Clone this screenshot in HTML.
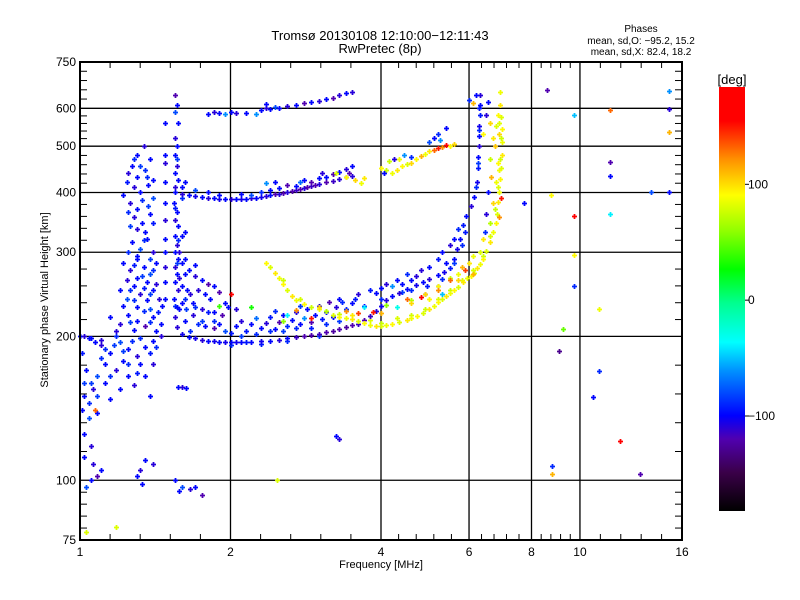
<!DOCTYPE html>
<html><head><meta charset="utf-8">
<style>
html,body{margin:0;padding:0;background:#fff;}
svg{display:block;font-family:"Liberation Sans","DejaVu Sans",sans-serif;}
</style></head>
<body>
<svg id="chart" width="800" height="600" viewBox="0 0 800 600">
<defs>
<linearGradient id="cbar" x1="0" y1="1" x2="0" y2="0">
<stop offset="0" stop-color="#000000"/>
<stop offset="0.09" stop-color="#3a0048"/>
<stop offset="0.17" stop-color="#5000b0"/>
<stop offset="0.225" stop-color="#0000ff"/>
<stop offset="0.33" stop-color="#0090ff"/>
<stop offset="0.398" stop-color="#00ffff"/>
<stop offset="0.49" stop-color="#00ff90"/>
<stop offset="0.57" stop-color="#00ff00"/>
<stop offset="0.66" stop-color="#90ff00"/>
<stop offset="0.745" stop-color="#ffff00"/>
<stop offset="0.83" stop-color="#ff9000"/>
<stop offset="0.92" stop-color="#ff0000"/>
<stop offset="1" stop-color="#ff0000"/>
</linearGradient>
</defs>
<text x="380" y="40" font-size="13" text-anchor="middle">Tromsø 20130108 12:10:00−12:11:43</text>
<text x="380" y="53" font-size="13" text-anchor="middle">RwPretec (8p)</text>
<text x="641" y="32" font-size="10" text-anchor="middle">Phases</text>
<text x="641" y="44" font-size="10" text-anchor="middle">mean, sd,O: −95.2, 15.2</text>
<text x="641" y="55" font-size="10" text-anchor="middle">mean, sd,X:  82.4, 18.2</text>
<g id="grid"></g>
<g id="marks"></g>
<g id="axes"></g>
<rect x="80" y="62" width="602" height="478" fill="none" stroke="#000" stroke-width="2"/>
<text x="381" y="568" font-size="11" text-anchor="middle">Frequency [MHz]</text>
<text x="0" y="0" font-size="11" text-anchor="middle" transform="translate(48,300) rotate(-90)">Stationary phase Virtual Height [km]</text>
<rect x="719" y="87" width="26" height="424" fill="url(#cbar)"/>
<text x="732" y="84" font-size="13" text-anchor="middle">[deg]</text>
<g id="cbticks"></g>
</svg>
<script>
const xTickVals = [1, 2, 4, 6, 8, 10, 16];
const yTickVals = [75, 100, 200, 300, 400, 500, 600, 750];
const cbTickVals = [100, 0, -100];

const oLower = [[1.56,209,-110],[1.6,202,-105],[1.65,199,-100],[1.7,198,-105],[1.75,197,-110],[1.8,196,-100],[1.85,196,-105],[1.9,195,-100],[1.95,195,-105],[2.0,195,-100],[2.05,195,-105],[2.1,195,-100],[2.15,195,-95],[2.2,195,-100],[2.3,196,-105],[2.4,196,-100],[2.5,197,-110],[2.6,198,-100],[2.7,199,-115],[2.8,200,-120],[2.9,201,-120],[3.0,202,-115],[3.1,204,-120],[3.2,205,-125],[3.3,207,-120],[3.4,209,-125],[3.5,211,-120],[3.6,212,-115],[3.7,216,-120],[3.8,221,-115],[3.9,226,-110],[4.0,232,-105],[4.1,238,-110],[4.2,243,-100],[4.35,247,-110],[4.5,251,-100],[4.7,256,-105],[4.85,260,-100],[5.0,264,-110],[5.2,269,-100],[5.35,273,-105],[5.5,278,-95],[5.6,290,-100],[5.68,305,-105],[5.75,320,-100],[5.84,342,-95],[5.93,358,-100],[6.05,375,-110],[6.15,392,-100],[6.22,420,-105],[6.24,450,-95],[6.26,475,-100],[6.27,500,-110],[6.28,525,-100],[6.29,550,-105],[6.3,580,-95],[6.3,610,-100],[6.31,640,-110]];

const oBand2 = [[1.62,215,-100],[1.68,222,-110],[1.72,212,-90],[1.78,210,-100],[1.85,208,-120],[1.9,212,-100],[1.95,205,-80],[2.05,210,-100],[2.1,215,-110],[2.15,205,-95],[2.2,212,-100],[2.25,218,-70],[2.3,208,-100],[2.35,213,-110],[2.4,220,-95],[2.45,207,-100],[2.5,214,-120],[2.55,222,-100],[2.6,210,-90],[2.65,216,-100],[2.7,225,-110],[2.75,212,-100],[2.8,218,-60],[2.85,228,-100],[2.9,214,-120],[2.95,222,-100],[3.0,232,-110],[3.05,217,-95],[3.1,225,-100],[3.15,236,-120],[3.2,220,-100],[3.25,230,-110],[3.3,240,-100],[3.4,228,-90],[3.5,235,-100],[3.6,245,-110],[3.7,232,-100],[3.8,250,-95],[4.0,252,-100],[4.1,258,-110],[4.3,262,-100],[4.5,270,-90],[4.6,262,-100],[4.8,275,-110],[5.0,280,-100],[5.2,290,-95],[5.3,300,-100],[5.5,310,-110],[5.6,320,-100],[5.7,335,-90],[5.2,255,-100],[4.9,245,-120],[4.4,258,-100],[4.7,268,-110],[5.4,285,-100],[3.9,246,-100],[4.2,255,-60]];

const mixed = [[3.4,226,120],[3.5,222,95],[3.6,224,140],[3.7,230,-40],[3.85,225,150],[4.0,224,110],[4.1,233,60],[4.3,230,-30],[4.5,240,130],[4.6,235,100],[4.8,242,160],[5.0,240,90],[5.2,250,120],[5.3,245,-50],[5.5,262,130],[5.7,262,100],[5.9,275,140],[6.1,270,110],[3.1,226,70],[2.9,218,150],[3.0,230,100],[2.7,227,120],[2.6,222,-40],[2.55,215,60],[1.9,232,40],[2.0,245,170],[2.2,230,30]];

const xTrace = [[2.35,285,90],[2.4,280,80],[2.45,272,95],[2.5,265,85],[2.55,258,90],[2.6,250,80],[2.65,243,95],[2.7,238,85],[2.8,234,90],[2.9,230,75],[3.0,228,85],[3.1,226,95],[3.2,222,80],[3.3,220,90],[3.4,219,85],[3.5,217,95],[3.6,215,80],[3.7,213,90],[3.8,211,85],[3.9,210,95],[4.0,210,80],[4.1,211,85],[4.2,212,90],[4.35,214,80],[4.5,216,95],[4.6,218,85],[4.72,221,90],[4.85,224,80],[5.0,228,95],[5.1,231,85],[5.2,236,90],[5.3,239,80],[5.4,243,95],[5.5,246,85],[5.6,250,90],[5.7,254,80],[5.84,260,95],[5.95,265,85],[6.05,268,90],[6.15,272,80],[6.22,278,95],[6.3,283,85],[6.4,290,90],[6.5,302,80],[6.6,315,95],[6.7,330,85],[6.78,345,90],[6.82,360,80],[6.87,382,95],[6.9,400,85],[6.93,427,90],[6.95,450,80],[6.97,479,95],[6.98,510,85],[6.98,543,90],[6.96,575,80],[6.93,610,95],[6.92,649,85]];

const xBand2 = [[4.6,238,70],[4.9,245,100],[5.2,255,90],[5.5,265,75],[5.8,280,110],[6.1,295,85],[6.4,320,95],[6.6,345,70],[6.7,380,100],[6.8,420,85],[6.85,460,90],[6.75,500,105],[6.8,550,80],[6.7,520,95],[6.6,470,75],[6.65,430,110],[6.55,400,-100],[6.5,360,-110],[6.45,330,-90],[6.9,355,120],[6.95,390,150],[6.3,300,80],[6.0,285,95],[5.7,270,85],[6.85,580,90],[6.9,530,100],[6.88,445,85]];

const oUpper = [[1.55,400,-100],[1.6,397,-110],[1.65,395,-100],[1.7,393,-105],[1.75,391,-100],[1.8,390,-110],[1.85,389,-100],[1.9,388,-105],[1.95,388,-100],[2.0,387,-110],[2.05,387,-100],[2.1,388,-105],[2.15,388,-100],[2.2,389,-110],[2.25,390,-100],[2.3,392,-105],[2.35,393,-110],[2.4,395,-100],[2.45,397,-120],[2.5,398,-110],[2.55,399,-120],[2.6,401,-110],[2.65,403,-120],[2.7,405,-115],[2.75,407,-120],[2.8,409,-110],[2.85,411,-120],[2.9,413,-115],[2.95,415,-120],[3.0,417,-110],[3.1,420,-120],[3.2,423,-115],[3.3,427,-110],[3.4,430,-120],[3.5,434,-110],[1.6,410,-100],[1.7,405,-80],[1.8,400,-100],[1.62,420,-100],[2.1,398,-100],[2.3,400,-90],[2.5,408,-100],[2.6,415,-120],[2.7,412,-100],[2.75,420,-70],[2.8,425,-100],[2.9,420,-120],[3.0,428,-100],[3.05,440,-110],[3.1,432,-100],[3.2,438,-120],[3.3,442,-100],[3.4,448,-110],[3.5,455,-100],[3.45,440,-120],[2.4,404,-100],[2.2,395,-80],[1.9,396,-100],[2.45,420,-100],[2.35,418,-60]];

const xUpper = [[3.25,440,80],[3.4,432,90],[3.55,425,100],[3.65,418,85],[3.7,428,95],[4.0,450,90],[4.1,445,75],[4.2,440,85],[4.3,445,95],[4.4,455,90],[4.5,458,80],[4.6,462,100],[4.7,470,90],[4.8,478,110],[4.9,482,85],[5.0,488,95],[5.1,492,130],[5.2,495,150],[5.3,498,120],[5.4,503,160],[5.5,500,90],[5.6,505,100],[4.35,470,85],[4.15,465,75],[4.05,440,-100],[4.25,470,-110],[4.45,480,-60],[4.6,475,-90],[5.0,510,-80],[5.1,520,-100],[5.2,530,-90],[5.25,515,-60],[5.4,545,-100]];

const oTop = [[1.8,583,-100],[1.85,590,-110],[1.9,588,-100],[1.95,585,-60],[2.0,590,-100],[2.05,586,-110],[2.15,588,-100],[2.3,595,-100],[2.35,600,-110],[2.4,598,-100],[2.45,605,-80],[2.5,602,-100],[2.6,608,-110],[2.7,610,-100],[2.8,615,-120],[2.9,618,-100],[3.0,622,-110],[3.1,628,-100],[3.2,632,-120],[3.3,640,-110],[3.4,645,-100],[3.5,650,-110],[2.25,585,-60],[2.35,612,-100]];

const column = [[1.55,640,-120],[1.56,610,-100],[1.55,590,-80],[1.57,560,-100],[1.55,520,-110],[1.56,500,-100],[1.55,480,-100],[1.56,455,-110],[1.55,440,-100],[1.57,425,-100],[1.55,410,-110],[1.54,380,-100],[1.56,365,-100],[1.55,350,-110],[1.57,340,-100],[1.55,325,-100],[1.56,310,-110],[1.55,300,-100],[1.57,290,-100],[1.55,280,-110],[1.56,270,-100],[1.55,260,-100],[1.57,250,-110],[1.54,240,-100],[1.56,230,-100],[1.55,220,-110],[1.6,325,-100],[1.62,330,-100],[1.58,300,-110],[1.6,285,-100],[1.62,270,-100],[1.58,265,-110],[1.6,255,-100],[1.64,250,-100],[1.66,245,-110],[1.6,235,-100],[1.58,228,-100],[1.48,560,-100],[1.48,480,-100],[1.48,460,-110],[1.48,420,-100],[1.48,380,-100],[1.48,350,-110],[1.48,320,-100],[1.48,300,-100],[1.48,280,-110],[1.48,260,-100],[1.48,240,-100]];

const lowCluster = [[1.3,480,-100],[1.34,500,-110],[1.38,470,-100],[1.27,455,-100],[1.25,440,-110],[1.3,430,-100],[1.35,445,-90],[1.4,425,-100],[1.28,410,-110],[1.37,415,-100],[1.22,395,-100],[1.26,380,-110],[1.32,400,-100],[1.4,390,-80],[1.3,370,-100],[1.28,355,-110],[1.33,345,-100],[1.38,360,-100],[1.3,335,-110],[1.35,330,-100],[1.27,315,-100],[1.32,305,-80],[1.36,320,-100],[1.4,300,-110],[1.3,295,-100],[1.22,285,-100],[1.26,275,-110],[1.3,290,-100],[1.34,280,-100],[1.38,270,-80],[1.42,285,-100],[1.24,262,-110],[1.3,265,-100],[1.36,260,-100],[1.42,258,-110],[1.2,250,-100],[1.24,240,-80],[1.28,255,-100],[1.32,245,-110],[1.36,238,-100],[1.4,250,-100],[1.44,240,-110],[1.22,232,-100],[1.3,230,-100],[1.38,228,-80],[1.46,232,-100],[1.15,220,-100],[1.2,212,-110],[1.25,222,-100],[1.3,215,-100],[1.35,210,-120],[1.4,220,-100],[1.45,212,-100],[1.18,205,-110],[1.28,206,-100],[1.42,205,-100],[1.05,198,-100],[1.1,192,-110],[1.15,185,-100],[1.2,195,-80],[1.25,188,-100],[1.3,182,-110],[1.35,190,-100],[1.4,196,-100],[1.45,200,-110],[1.22,178,-100],[1.32,175,-100],[1.18,170,-110],[1.03,170,-100],[1.08,165,-80],[1.12,160,-100],[1.2,155,-100],[1.28,158,-110],[1.35,165,-100],[1.02,150,-100],[1.06,155,-110],[1.15,148,-100],[1.01,140,-100],[1.04,135,-80],[1.02,125,-100],[1.05,118,-110],[1.08,138,-100],[1.02,112,-100],[1.06,108,-110],[1.1,105,-100],[1.05,100,-100],[1.08,102,-120],[1.3,102,-100],[1.32,105,-110],[1.35,110,-100],[1.33,98,-100],[1.4,108,-110],[1.03,97,-80],[1.0,200,-100],[1.02,200,-110],[1.04,198,-100],[1.07,195,-100],[1.1,197,-110],[1.12,175,-100],[1.25,165,-100],[1.4,175,-110],[1.38,150,-100]];

const denseExtra = [[1.28,470,-90],[1.32,455,-85],[1.36,430,-90],[1.24,420,-95],[1.33,385,-90],[1.37,375,-85],[1.25,365,-90],[1.4,345,-95],[1.26,340,-85],[1.34,318,-90],[1.25,300,-90],[1.38,290,-85],[1.28,282,-95],[1.4,275,-90],[1.33,268,-85],[1.26,250,-90],[1.34,252,-95],[1.38,245,-85],[1.28,238,-90],[1.34,226,-90],[1.26,214,-85],[1.38,214,-90],[1.43,225,-95],[1.32,198,-90],[1.17,192,-85],[1.27,196,-90],[1.38,185,-95],[1.1,180,-90],[1.22,186,-85],[1.15,165,-90],[1.3,168,-95],[1.08,150,-85],[1.25,175,-90],[1.42,190,-90],[1.05,160,-85],[1.12,188,-90],[1.18,200,-90],[1.01,185,-95],[1.02,160,-85],[1.04,145,-90],[1.55,232,-90],[1.56,285,-85],[1.57,318,-90],[1.55,372,-95],[1.56,470,-85],[1.6,390,-90],[1.62,240,-90],[1.63,228,-85],[1.7,230,-90],[1.8,225,-95],[1.66,205,-90],[1.75,215,-85],[1.85,215,-90],[2.0,203,-95],[2.1,200,-85],[2.25,202,-90],[2.4,205,-90],[2.55,205,-85],[2.7,208,-90],[2.9,208,-95],[3.1,212,-90],[3.3,215,-85],[2.0,192,-90],[2.3,193,-95],[2.6,196,-90],[3.0,200,-85],[2.45,226,-90],[2.75,232,-85],[3.35,236,-90],[3.55,240,-95],[4.0,240,-90],[4.4,248,-85],[4.6,250,-90],[4.95,255,-95],[5.3,264,-90],[5.6,285,-85],[5.8,310,-90],[5.9,330,-95],[6.2,410,-90],[6.25,460,-85],[6.27,540,-90],[6.29,600,-95],[3.8,216,80],[4.0,213,75],[4.3,218,80],[4.6,222,78],[4.9,228,76],[5.2,240,80],[5.5,250,75],[5.8,262,80],[6.1,275,78],[6.4,295,76],[6.6,325,80],[6.75,370,75],[6.85,410,80],[6.92,470,78],[6.95,520,76],[6.9,560,80],[3.3,223,75],[3.0,232,80],[2.75,240,78],[2.55,262,76]];

const f1Scatter = [[1.65,275,-100],[1.7,268,-110],[1.75,262,-100],[1.8,258,-120],[1.85,255,-100],[1.72,250,-110],[1.78,245,-100],[1.82,240,-100],[1.9,248,-120],[1.95,235,-100],[1.68,235,-100],[1.75,228,-110],[1.85,225,-100],[1.92,222,-120],[1.98,230,-100],[2.05,228,-110],[1.7,282,-100],[1.62,290,-100],[1.57,157,-100],[1.6,157,-110],[1.63,156,-100],[1.55,100,-100],[1.6,97,-80],[1.66,96,-110],[1.7,97,-100],[1.75,93,-120],[1.58,95,-100],[3.25,124,-100],[3.3,122,-110],[2.48,100,80],[1.18,80,80],[1.03,78,80],[1.07,140,130]];

const sparse = [[8.59,655,-120],[9.73,581,-50],[11.5,595,130],[15.1,652,-60],[15.1,597,-110],[15.1,535,110],[11.5,463,-120],[11.5,433,-100],[13.9,400,-80],[15.1,400,-100],[8.75,396,90],[7.73,380,-100],[9.73,358,160],[11.5,360,-40],[9.73,296,90],[9.73,255,-90],[10.9,228,85],[9.25,207,50],[9.1,186,-130],[10.9,169,-90],[10.6,149,-100],[12.0,121,160],[8.8,107,-90],[8.8,103,110],[13.2,103,-120],[6.2,640,-100],[6.5,580,-110],[6.6,560,100],[6.0,625,-90],[6.4,530,90],[6.1,615,110],[6.55,620,-100]];

const allSeries = [lowCluster, denseExtra, column, f1Scatter, oUpper, oTop, oBand2, oLower, xUpper, xTrace, xBand2, mixed, sparse];

const X0 = 80, X1 = 682, Y0 = 540, Y1 = 62;
function xScale(f){ return X0 + Math.log(f) / Math.log(16) * (X1 - X0); }
function yScale(h){ return Y0 - Math.log(h/75) / Math.log(10) * (Y0 - Y1); }
const cbTop = 87, cbBot = 511, cbMax = 184, cbMin = -182;
function cbScale(v){ return cbBot - (v - cbMin) / (cbMax - cbMin) * (cbBot - cbTop); }

const cStops = [[-182,[0,0,0]],[-150,[58,0,72]],[-120,[80,0,176]],[-101,[0,0,255]],[-60,[0,144,255]],[-37,[0,255,255]],[0,[0,255,144]],[26,[0,255,0]],[60,[144,255,0]],[89,[255,255,0]],[120,[255,144,0]],[155,[255,0,0]],[184,[255,0,0]]];
function phaseColor(p){
  for (let i = 0; i < cStops.length - 1; i++) {
    const a = cStops[i], b = cStops[i+1];
    if (p <= b[0] || i === cStops.length - 2) {
      const t = Math.max(0, Math.min(1, (p - a[0]) / (b[0] - a[0])));
      const c = a[1].map((v, k) => Math.round(v + (b[1][k] - v) * t));
      return 'rgb(' + c.join(',') + ')';
    }
  }
}

const NS = 'http://www.w3.org/2000/svg';
const grid = document.getElementById('grid');
const axes = document.getElementById('axes');
const marks = document.getElementById('marks');

function line(parent, x1, y1, x2, y2, w){
  const l = document.createElementNS(NS, 'line');
  l.setAttribute('x1', x1); l.setAttribute('y1', y1);
  l.setAttribute('x2', x2); l.setAttribute('y2', y2);
  l.setAttribute('stroke', '#000'); l.setAttribute('stroke-width', w);
  parent.appendChild(l);
  return l;
}
function label(parent, x, y, txt, anchor, size){
  const t = document.createElementNS(NS, 'text');
  t.setAttribute('x', x); t.setAttribute('y', y);
  t.setAttribute('font-size', size); t.setAttribute('text-anchor', anchor);
  t.textContent = txt;
  parent.appendChild(t);
  return t;
}

xTickVals.forEach((v, i) => {
  const x = xScale(v);
  if (i > 0 && i < xTickVals.length - 1) {
    const g = line(grid, x, Y1, x, Y0, 1.3);
    
    
  }
  const t = label(axes, x, 556, String(v), 'middle', 12);
  
  
  if (i < xTickVals.length - 1) {
    const a = Math.log(v), b = Math.log(xTickVals[i+1]);
    for (let k = 1; k < 5; k++) {
      const xm = xScale(Math.exp(a + (b - a) * k / 5));
      const t1 = line(axes, xm, Y0, xm, Y0 - 6, 1);
      
      
      const t2 = line(axes, xm, Y1, xm, Y1 + 6, 1);
      
      
    }
  }
});
yTickVals.forEach((v, i) => {
  const y = yScale(v);
  if (i > 0 && i < yTickVals.length - 1) {
    const g = line(grid, X0, y, X1, y, 1.3);
    
    
  }
  const t = label(axes, 76, y + 4, String(v), 'end', 12);
  
  
  if (i < yTickVals.length - 1) {
    const a = Math.log(v), b = Math.log(yTickVals[i+1]);
    for (let k = 1; k < 5; k++) {
      const ym = yScale(Math.exp(a + (b - a) * k / 5));
      const t1 = line(axes, X0, ym, X0 + 7, ym, 1);
      
      
      const t2 = line(axes, X1, ym, X1 - 7, ym, 1);
      
      
    }
  }
});

allSeries.forEach(series => {
  series.forEach(d => {
    const x = Math.round(xScale(d[0])) + 0.5, y = Math.round(yScale(d[1])) + 0.5;
    const p = document.createElementNS(NS, 'path');
    p.setAttribute('d', 'M' + (x - 2.5) + ' ' + y + 'H' + (x + 2.5) + 'M' + x + ' ' + (y - 2.5) + 'V' + (y + 2.5));
    p.setAttribute('stroke', phaseColor(d[2]));
    p.setAttribute('stroke-width', 1.8);
    
    
    marks.appendChild(p);
  });
});

const cbt = document.getElementById('cbticks');
cbTickVals.forEach(v => {
  const y = cbScale(v);
  const l = line(cbt, 745, y, 749, y, 1);
  
  
  const t = label(cbt, 748, y + 4, v < 0 ? '−' + Math.abs(v) : String(v), 'start', 12);
  
  
});
</script>
</body></html>
